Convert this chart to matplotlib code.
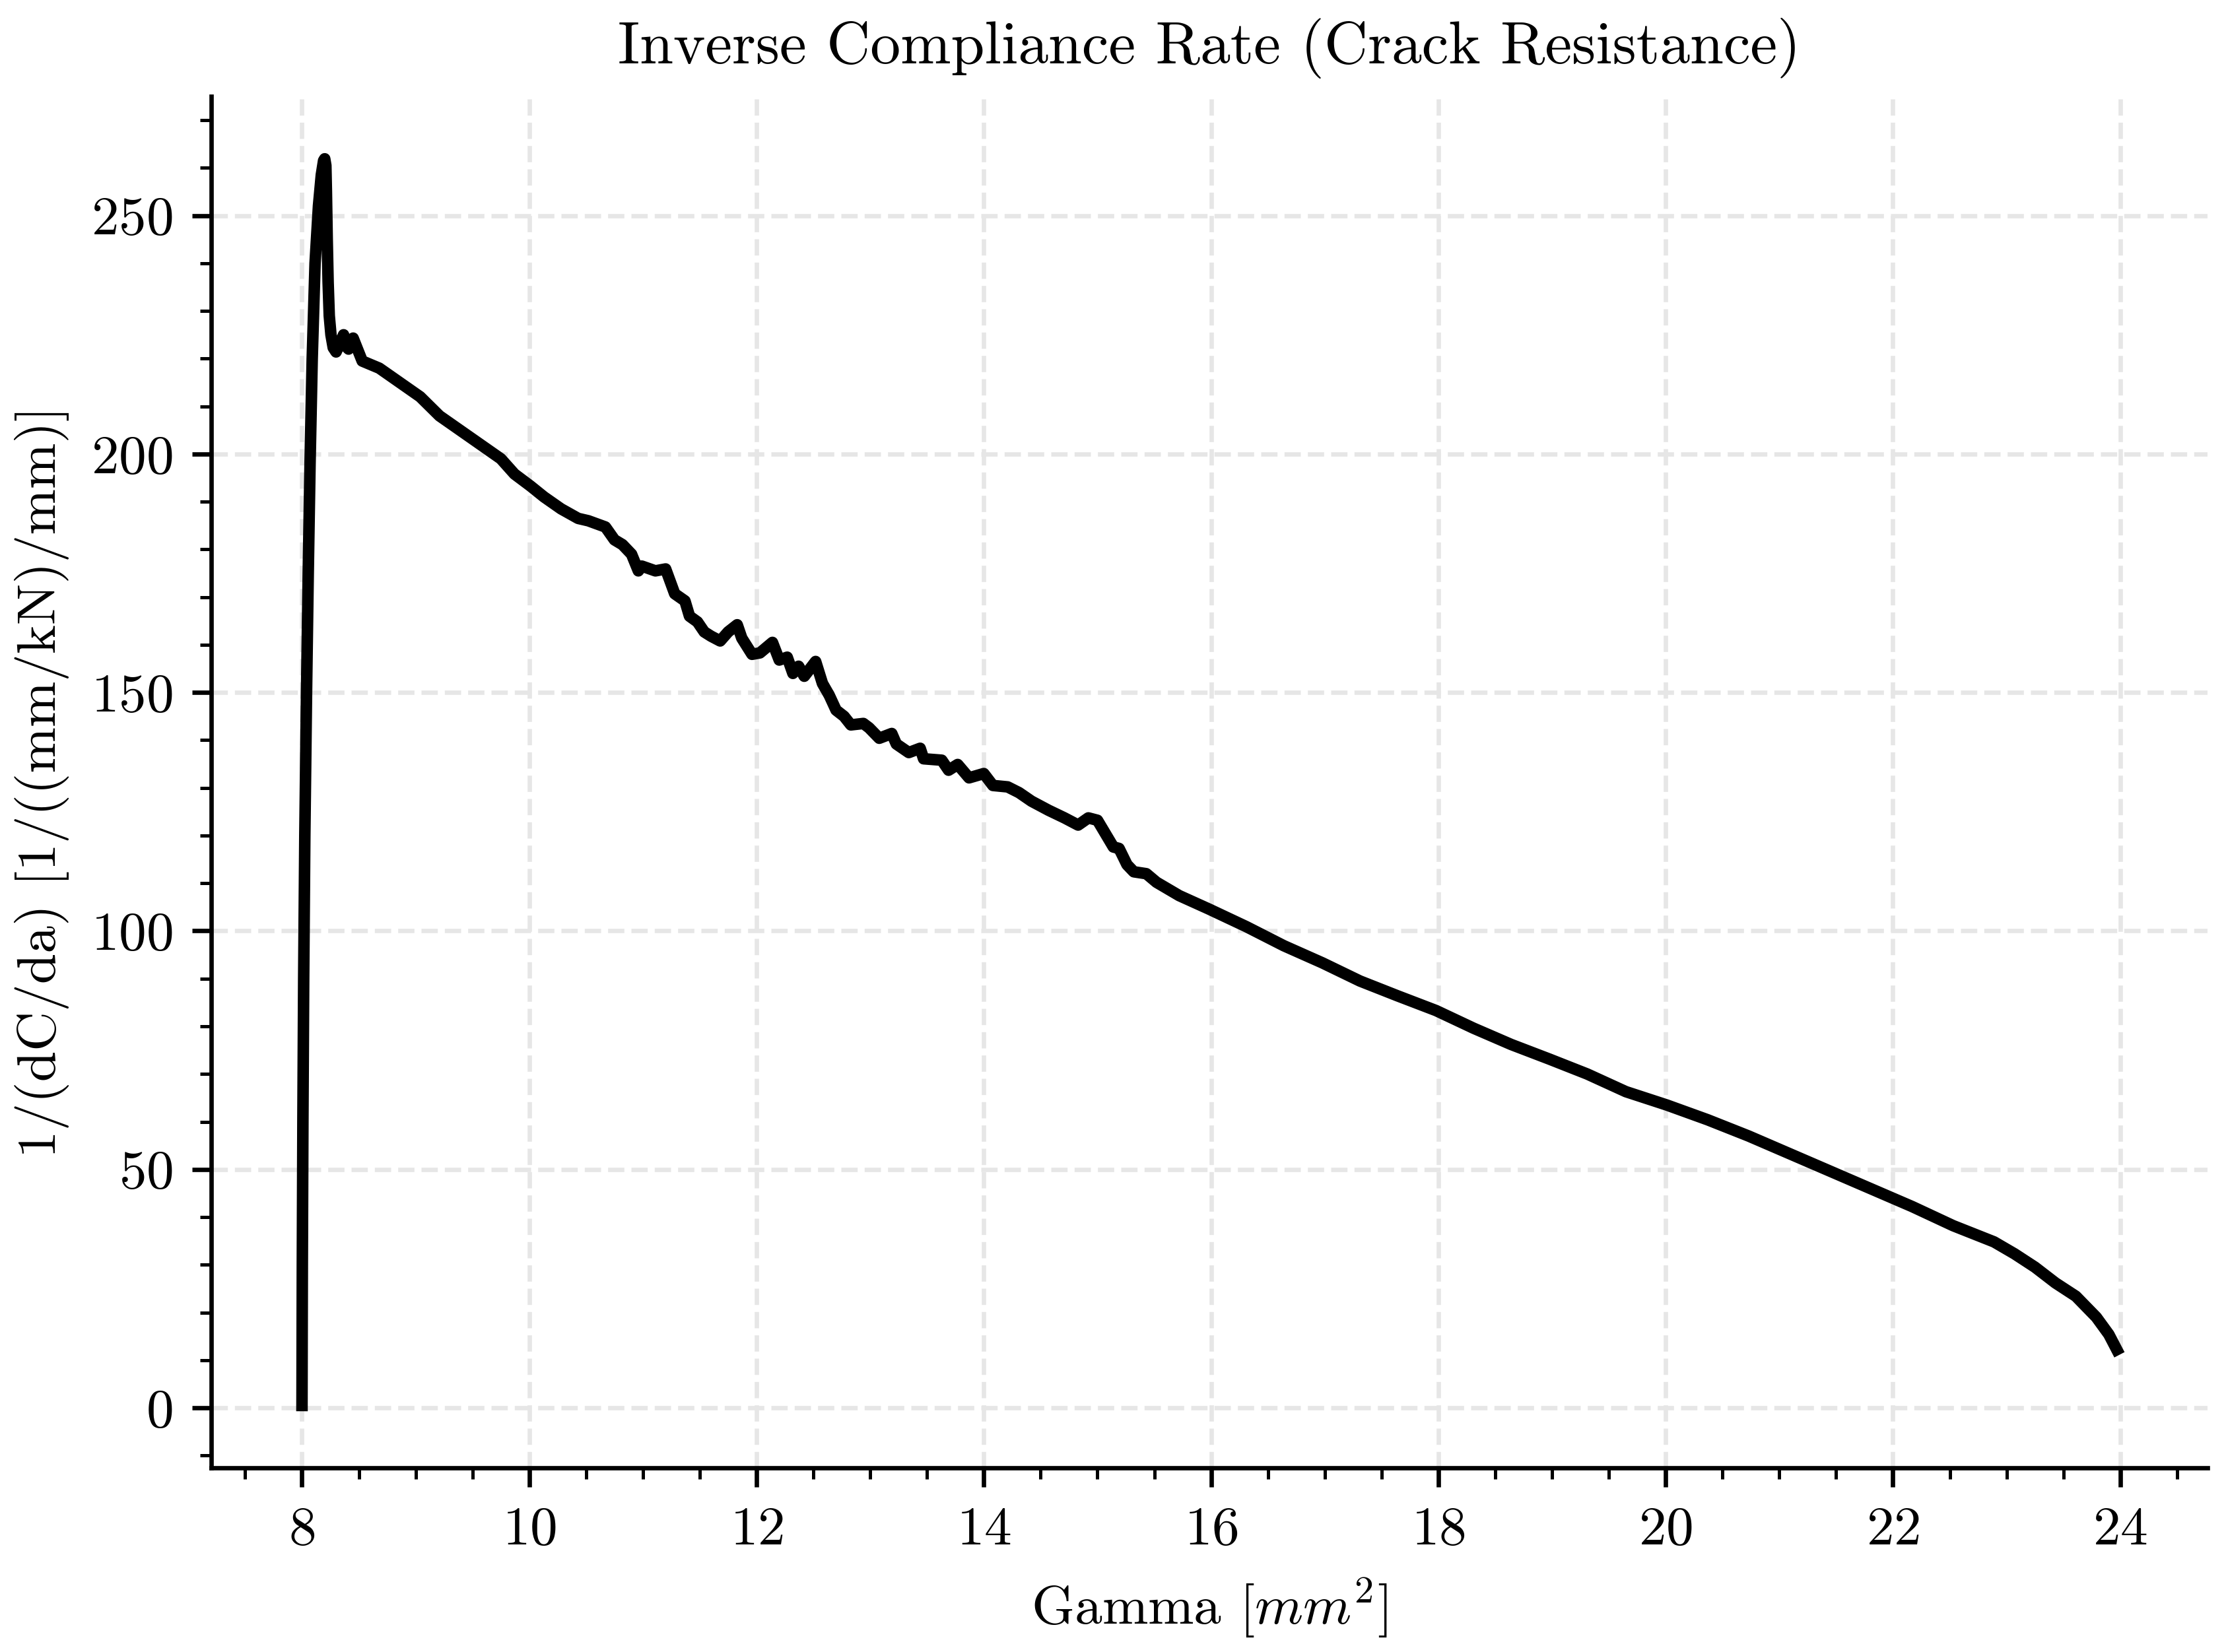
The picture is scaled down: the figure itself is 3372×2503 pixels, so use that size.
import matplotlib; matplotlib.use("Agg")
import matplotlib.pyplot as plt
from matplotlib.ticker import AutoMinorLocator

plt.rcParams['font.family'] = 'serif'
plt.rcParams['font.serif'] = ['cmr10']
plt.rcParams['mathtext.fontset'] = 'cm'
plt.rcParams['axes.unicode_minus'] = False
plt.rcParams['axes.formatter.use_mathtext'] = True

# crack-resistance curve
gamma = [8.0, 8.003, 8.008, 8.015, 8.025, 8.04, 8.055, 8.071, 8.09, 8.115, 8.145, 8.17, 8.19, 8.20,
         8.21, 8.215, 8.222, 8.23, 8.24, 8.255, 8.275, 8.30, 8.33, 8.366, 8.39, 8.41, 8.45, 8.48, 8.53,
         8.68, 8.86, 9.04, 9.21, 9.39, 9.57, 9.75, 9.87, 10.01, 10.13, 10.28, 10.43, 10.52, 10.67,
         10.75, 10.82, 10.90, 10.96, 10.99, 11.11, 11.20, 11.28, 11.37, 11.41, 11.48, 11.54, 11.60,
         11.68, 11.75, 11.83, 11.87, 11.96, 12.03, 12.14, 12.20, 12.27, 12.32, 12.37, 12.42, 12.52,
         12.58, 12.64, 12.70, 12.77, 12.83, 12.94, 12.99, 13.08, 13.19, 13.23, 13.34, 13.44, 13.47,
         13.63, 13.69, 13.77, 13.87, 14.00, 14.08, 14.21, 14.31, 14.42, 14.57, 14.71, 14.83, 14.92,
         15.00, 15.07, 15.14, 15.19, 15.26, 15.32, 15.43, 15.52, 15.72, 15.98, 16.31, 16.64, 16.98,
         17.31, 17.64, 17.98, 18.31, 18.64, 18.98, 19.31, 19.65, 20.01, 20.37, 20.73, 21.09, 21.45,
         21.81, 22.17, 22.53, 22.89, 23.07, 23.25, 23.43, 23.61, 23.79, 23.90, 23.97]
inv_rate = [0.5, 30, 60, 90, 120, 150, 175, 198, 220, 240, 252, 258.5, 261.5, 261.9,
            260.5, 255, 245, 236, 229, 225, 222.3, 221.4, 223, 225, 222.5, 222, 224.3, 222.5, 219.5,
            218, 215, 212, 208, 205, 202, 199, 195.8, 193.3, 191, 188.5, 186.5, 186, 184.7,
            182, 181, 179, 175.5, 176.5, 175.5, 175.9, 170.7, 169.2, 166, 164.8, 162.7, 161.8,
            160.8, 162.7, 164.2, 161.4, 158.0, 158.3, 160.5, 156.8, 157.4, 154, 155.5, 153.4, 156.5,
            151.9, 149.4, 146.3, 145, 143.2, 143.5, 142.6, 140.4, 141.4, 139.2, 137.4, 138.3, 136.1,
            135.8, 133.7, 134.9, 132.1, 133, 130.5, 130.2, 129, 127.2, 125.3, 123.7, 122.2, 123.7,
            123.2, 120.4, 117.6, 117.3, 113.9, 112.4, 112, 110.2, 107.4, 104.6, 100.9, 96.9, 93.3,
            89.5, 86.4, 83.3, 79.6, 76.2, 73.1, 70, 66.3, 63.5, 60.4, 57, 53.3, 49.6,
            45.9, 42.2, 38.2, 34.8, 32.3, 29.5, 26.2, 23.4, 19.0, 15.4, 12.2]

fig = plt.figure(figsize=(5.62, 4.1717), dpi=600)
ax = fig.add_axes([0.0949, 0.1115, 0.8968, 0.8301])
ax.plot(gamma, inv_rate, color='black', lw=2.1, zorder=3)

ax.set_title("Inverse Compliance Rate (Crack Resistance)", fontsize=11)
ax.set_xlabel(r"Gamma [$mm^2$]", fontsize=10)
ax.set_ylabel("1/(dC/da) [1/((mm/kN)/mm)]", fontsize=10)

ax.set_xticks(range(8, 25, 2))
ax.xaxis.set_minor_locator(AutoMinorLocator(4))
ax.yaxis.set_minor_locator(AutoMinorLocator(5))
ax.tick_params(which='both', direction='out', labelsize=10)
ax.tick_params(which='major', length=3.5, width=0.8)
ax.tick_params(which='minor', length=2, width=0.6)
for s in ['top', 'right']:
    ax.spines[s].set_visible(False)
for s in ['left', 'bottom']:
    ax.spines[s].set_linewidth(0.8)
ax.grid(True, which='major', ls='--', lw=0.8, color='#e6e6e6', zorder=0)
ax.set_axisbelow(True)

fig.savefig("out.png", dpi=600)
